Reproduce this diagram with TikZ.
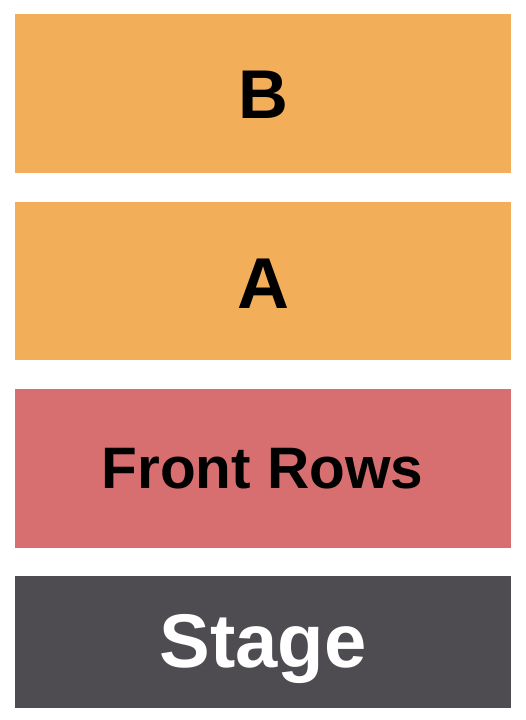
\documentclass[tikz,border=0pt]{standalone}
\usepackage{fontspec}
\setmainfont{Liberation Sans}
\definecolor{secorange}{HTML}{F3AE5A}
\definecolor{secred}{HTML}{D76E70}
\definecolor{stagegray}{HTML}{4E4C50}
\begin{document}
\begin{tikzpicture}[x=1pt,y=-1pt,
  section/.style={draw=none,inner sep=0pt,minimum width=496pt},
  lbl/.style={inner sep=0pt,anchor=base,font=\bfseries}]
\useasboundingbox[fill=white] (0,0) rectangle (525,720);
\node[section,fill=secorange,minimum height=159pt] (b) at (263,93.5) {};
\node[section,fill=secorange,minimum height=158pt] (a) at (263,281) {};
\node[section,fill=secred,minimum height=159pt] (front) at (263,468.5) {};
\node[section,fill=stagegray,minimum height=132pt] (stage) at (263,642) {};
\node[lbl,font=\fontsize{69}{69}\selectfont\bfseries] (tb) at (263.5,118) {B};
\node[lbl,font=\fontsize{72}{72}\selectfont\bfseries] (ta) at (263.5,308) {A};
\node[lbl,font=\fontsize{58.5}{58.5}\selectfont\bfseries] (tf) at (262.5,488) {Front Rows};
\node[lbl,text=white,font=\fontsize{76}{76}\selectfont\bfseries] (ts) at (263,667) {Stage};
\end{tikzpicture}
\end{document}
